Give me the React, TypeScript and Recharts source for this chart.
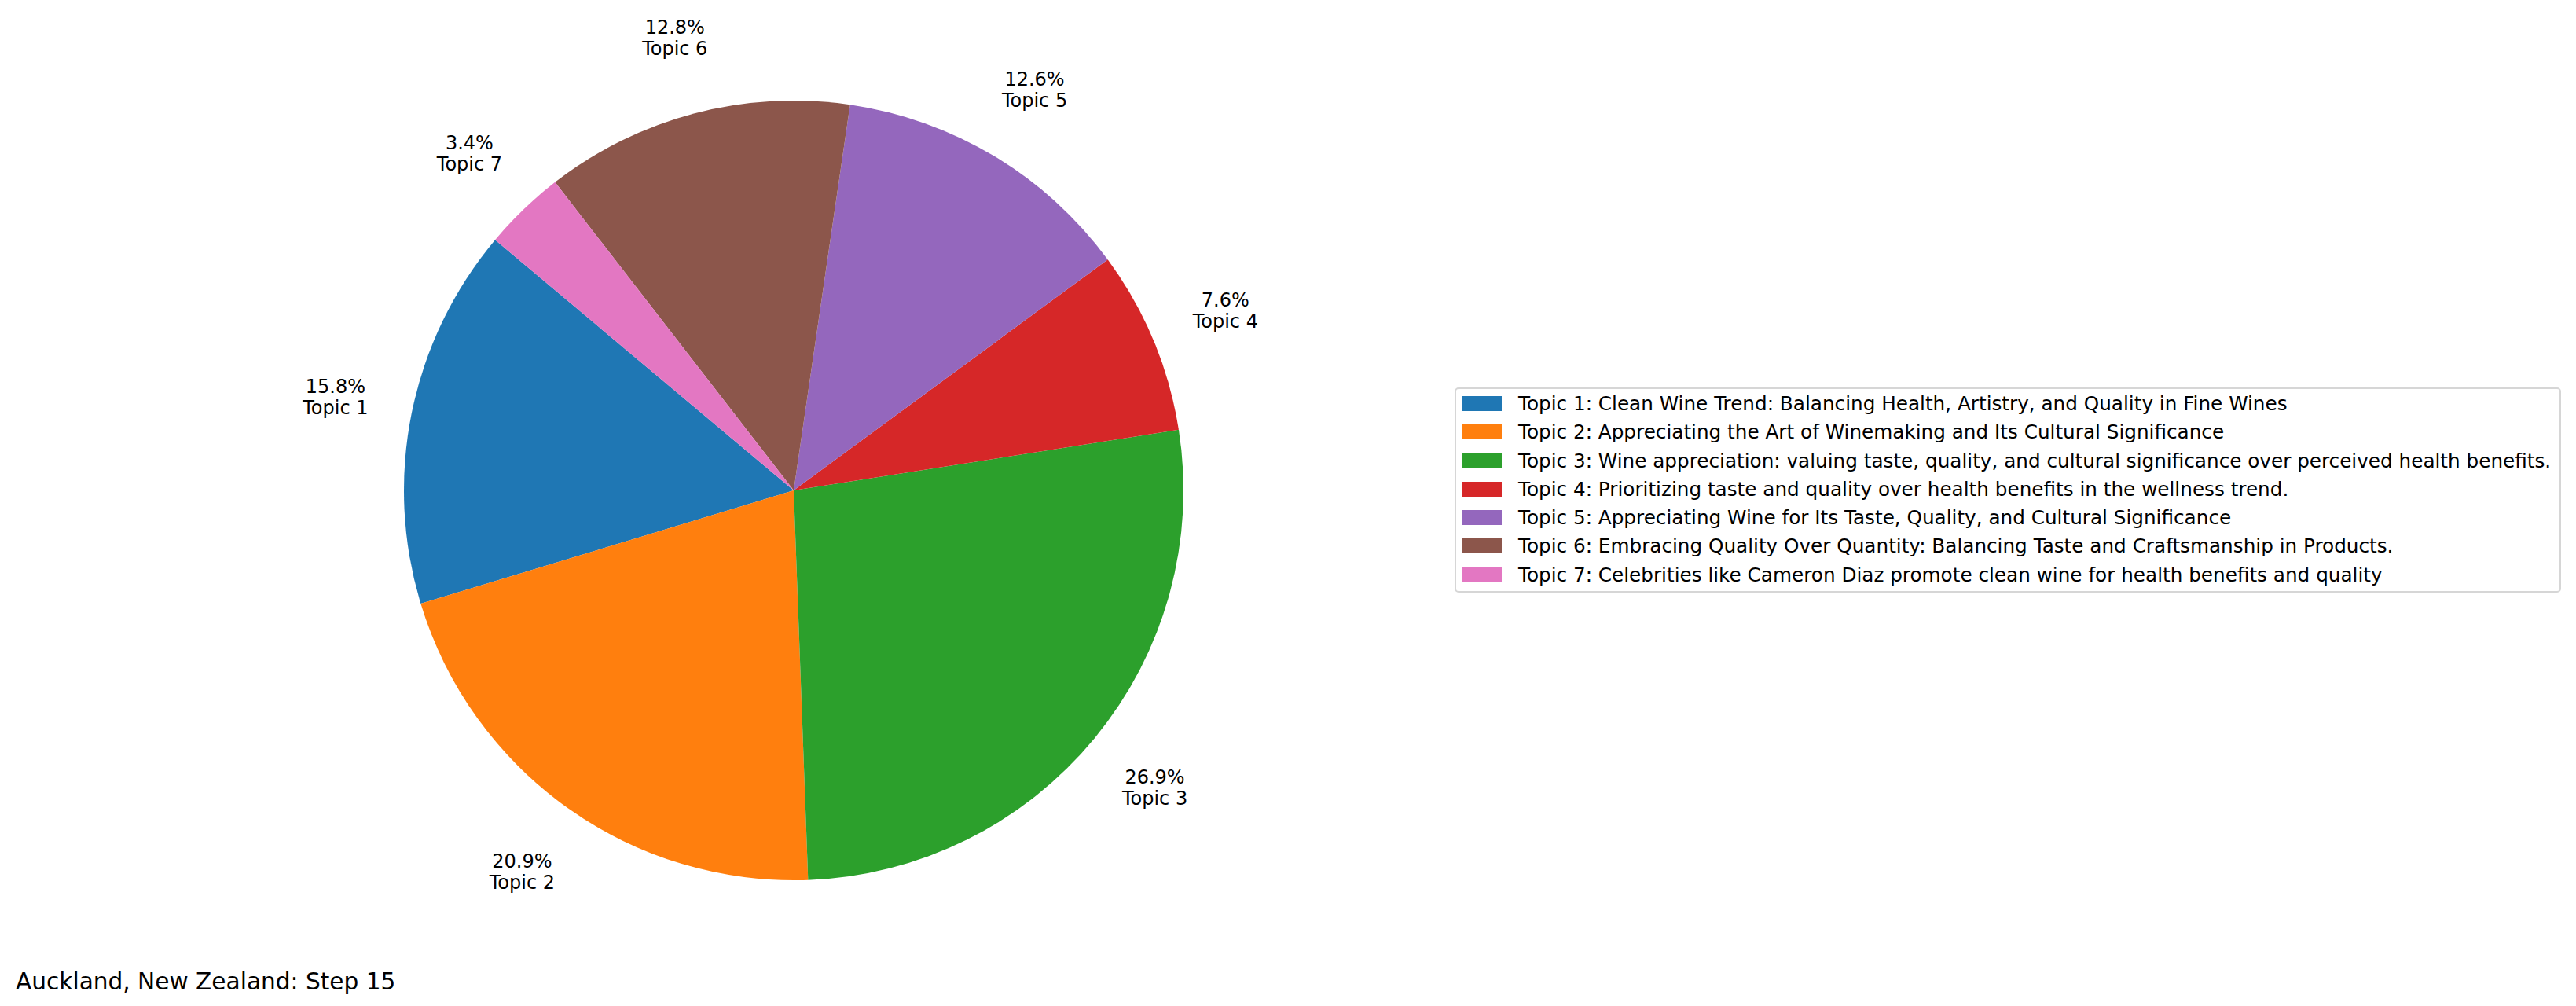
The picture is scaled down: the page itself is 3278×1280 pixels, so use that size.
import React from "react";
import { PieChart, Pie, Cell, Legend } from "recharts";

const topicNames = ["Topic 1", "Topic 2", "Topic 3", "Topic 4", "Topic 5", "Topic 6", "Topic 7"];
const shares = [15.8, 20.9, 26.9, 7.6, 12.6, 12.8, 3.4];
const legendLabels = [
  "Topic 1: Clean Wine Trend: Balancing Health, Artistry, and Quality in Fine Wines",
  "Topic 2: Appreciating the Art of Winemaking and Its Cultural Significance",
  "Topic 3: Wine appreciation: valuing taste, quality, and cultural significance over perceived health benefits.",
  "Topic 4: Prioritizing taste and quality over health benefits in the wellness trend.",
  "Topic 5: Appreciating Wine for Its Taste, Quality, and Cultural Significance",
  "Topic 6: Embracing Quality Over Quantity: Balancing Taste and Craftsmanship in Products.",
  "Topic 7: Celebrities like Cameron Diaz promote clean wine for health benefits and quality",
];
const colors = ["#1f77b4", "#ff7f0e", "#2ca02c", "#d62728", "#9467bd", "#8c564b", "#e377c2"];
const title = "Auckland, New Zealand: Step 15";

const data = topicNames.map((t, i) => ({ name: legendLabels[i], short: t, value: shares[i] }));

const FONT = "'DejaVu Sans', 'Liberation Sans', sans-serif";
const RAD = Math.PI / 180;

const renderLabel = (props: any) => {
  const { cx, cy, midAngle, outerRadius, index, value } = props;
  const r = outerRadius * 1.2;
  const x = cx + r * Math.cos(-midAngle * RAD);
  const y = cy + r * Math.sin(-midAngle * RAD);
  return (
    <text x={x} y={y} textAnchor="middle" fill="#000" fontFamily={FONT} fontSize={24}>
      <tspan x={x} y={y - 5}>{`${Number(value).toFixed(1)}%`}</tspan>
      <tspan x={x} y={y + 22}>{topicNames[index]}</tspan>
    </text>
  );
};

const renderLegend = (props: any) => {
  const payload = props.payload || [];
  const items = payload.length ? payload : data.map((d, i) => ({ value: d.name, color: colors[i] }));
  return (
    <div
      style={{
        position: "relative",
        width: 1408,
        height: 261,
        boxSizing: "border-box",
        border: "2px solid #d6d6d6",
        borderRadius: 5,
        background: "#fff",
        fontFamily: FONT,
        fontSize: 24.7,
        color: "#000",
      }}
    >
      {items.map((it: any, i: number) => (
        <div
          key={i}
          style={{
            position: "absolute",
            left: 7,
            top: 9 + i * 36.25,
            height: 19,
            display: "flex",
            alignItems: "center",
            whiteSpace: "nowrap",
          }}
        >
          <div style={{ width: 51, height: 19, background: it.color || colors[i], flex: "none" }} />
          <span style={{ marginLeft: 21, lineHeight: "25px" }}>{it.value}</span>
        </div>
      ))}
    </div>
  );
};

export default function App() {
  return (
    <div style={{ position: "absolute", left: 0, top: 0, width: 3278, height: 1280, background: "#fff" }}>
      <PieChart width={3278} height={1280} margin={{ top: 0, right: 0, bottom: 0, left: 0 }}>
        <Pie
          data={data}
          dataKey="value"
          nameKey="name"
          cx={1010}
          cy={624}
          outerRadius={496}
          innerRadius={0}
          startAngle={140}
          endAngle={500}
          stroke="none"
          label={renderLabel}
          labelLine={false}
          isAnimationActive={false}
        >
          {data.map((_, i) => (
            <Cell key={i} fill={colors[i]} stroke="none" />
          ))}
        </Pie>
        <Legend
          content={renderLegend}
          wrapperStyle={{ position: "absolute", left: 1851, top: 493, width: 1408, height: 261 }}
        />
      </PieChart>
      <div
        style={{
          position: "absolute",
          left: 20,
          top: 1234,
          fontFamily: FONT,
          fontSize: 29.6,
          lineHeight: "30px",
          color: "#000",
          whiteSpace: "nowrap",
        }}
      >
        {title}
      </div>
    </div>
  );
}
